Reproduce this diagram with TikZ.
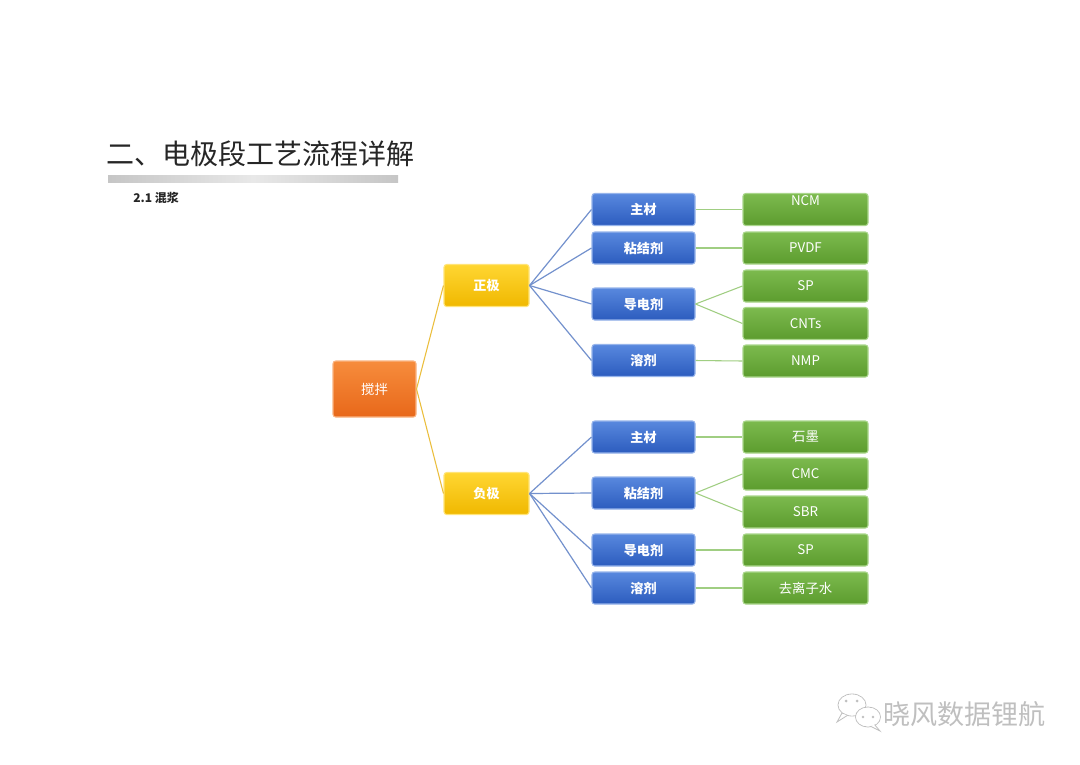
\documentclass[tikz,border=0pt]{standalone}
\usepackage{fontspec}
\setmainfont{Noto Sans CJK SC}
\usetikzlibrary{shadings}
\definecolor{bluetop}{RGB}{88,136,222}
\definecolor{bluebot}{RGB}{44,92,190}
\definecolor{blueedge}{RGB}{150,180,235}
\definecolor{yeltop}{RGB}{255,214,50}
\definecolor{yelbot}{RGB}{240,184,0}
\definecolor{yeledge}{RGB}{255,228,120}
\definecolor{ortop}{RGB}{246,140,60}
\definecolor{orbot}{RGB}{232,104,26}
\definecolor{oredge}{RGB}{250,180,130}
\definecolor{grtop}{RGB}{124,186,78}
\definecolor{grbot}{RGB}{92,156,46}
\definecolor{gredge}{RGB}{170,214,140}
\definecolor{bline}{RGB}{115,145,205}
\definecolor{gline}{RGB}{160,206,130}
\definecolor{yline}{RGB}{235,190,60}
\tikzset{
  boxbase/.style={rounded corners=2pt, inner sep=0pt, text=white, line width=0.8pt},
  bluebox/.style={boxbase, top color=bluetop, bottom color=bluebot, draw=blueedge,
    minimum width=77.25pt, minimum height=24pt, font=\fontsize{9.8pt}{11pt}\selectfont\bfseries},
  greenbox/.style={boxbase, top color=grtop, bottom color=grbot, draw=gredge,
    minimum width=93.75pt, minimum height=24pt, font=\fontsize{10pt}{11pt}\selectfont},
  yelbox/.style={boxbase, top color=yeltop, bottom color=yelbot, draw=yeledge,
    minimum width=63.75pt, minimum height=31.5pt, font=\fontsize{9.8pt}{11pt}\selectfont\bfseries},
  orbox/.style={boxbase, top color=ortop, bottom color=orbot, draw=oredge,
    minimum width=62.25pt, minimum height=42pt, font=\fontsize{10pt}{11pt}\selectfont},
  yconn/.style={draw=yline, line width=0.8pt},
  bconn/.style={draw=bline, line width=0.9pt},
  gconn/.style={draw=gline, line width=0.8pt},
}
\begin{document}
\begin{tikzpicture}[x=0.75pt,y=-0.75pt]
\fill[white] (0,0) rectangle (1080,764);
\useasboundingbox (0,0) rectangle (1080,764);
% title
\node[anchor=west, inner sep=0pt, font=\fontsize{21pt}{24pt}\selectfont, text=black!85] (title) at (106,154) {二、电极段工艺流程详解};
\shade[left color=gray!45, right color=gray!18] (108,175) rectangle (253.2,182);
\shade[left color=gray!18, right color=gray!45] (252.8,175) rectangle (398,182);
\node[anchor=west, inner sep=0pt, font=\fontsize{9pt}{10pt}\selectfont\bfseries, text=black!85] (sub) at (133,198) {2.1 混浆};
% nodes
\node[orbox] (mix) at (374.5,389) {搅拌};
\node[yelbox] (pos) at (486.5,285.5) {正极};
\node[yelbox] (neg) at (486.5,493.5) {负极};
\node[bluebox] (p1) at (643.5,209.5) {主材};
\node[bluebox] (p2) at (643.5,248) {粘结剂};
\node[bluebox] (p3) at (643.5,304) {导电剂};
\node[bluebox] (p4) at (643.5,360.5) {溶剂};
\node[bluebox] (n1) at (643.5,437) {主材};
\node[bluebox] (n2) at (643.5,493) {粘结剂};
\node[bluebox] (n3) at (643.5,550) {导电剂};
\node[bluebox] (n4) at (643.5,588) {溶剂};
\node[greenbox, text depth=13pt] (g1) at (805.5,209.5) {NCM};
\node[greenbox] (g2) at (805.5,248) {PVDF};
\node[greenbox] (g3) at (805.5,286) {SP};
\node[greenbox] (g4) at (805.5,323.5) {CNTs};
\node[greenbox] (g5) at (805.5,361) {NMP};
\node[greenbox] (h1) at (805.5,437) {石墨};
\node[greenbox] (h2) at (805.5,474) {CMC};
\node[greenbox] (h3) at (805.5,512) {SBR};
\node[greenbox] (h4) at (805.5,550) {SP};
\node[greenbox] (h5) at (805.5,588) {去离子水};
% connectors
\draw[yconn] (mix.east) -- (pos.west);
\draw[yconn] (mix.east) -- (neg.west);
\foreach \b in {p1,p2,p3,p4} \draw[bconn] (pos.east) -- (\b.west);
\foreach \b in {n1,n2,n3,n4} \draw[bconn] (neg.east) -- (\b.west);
\draw[gconn] (p1.east) -- (g1.west);
\draw[gconn] (p2.east) -- (g2.west);
\draw[gconn] (p3.east) -- (g3.west);
\draw[gconn] (p3.east) -- (g4.west);
\draw[gconn] (p4.east) -- (g5.west);
\draw[gconn] (n1.east) -- (h1.west);
\draw[gconn] (n2.east) -- (h2.west);
\draw[gconn] (n2.east) -- (h3.west);
\draw[gconn] (n3.east) -- (h4.west);
\draw[gconn] (n4.east) -- (h5.west);
% watermark icon
\begin{scope}[draw=gray!50, line width=0.6pt, fill=white]
\filldraw (852,705) ellipse (14 and 11);
\filldraw (842,713) -- (837,722) -- (848,715) -- cycle;
\fill[white] (852,705) ellipse (13.3 and 10.3);
\filldraw (868,717) ellipse (12.5 and 10);
\filldraw (874,724) -- (880,731) -- (870,726) -- cycle;
\fill[white] (868,717) ellipse (11.8 and 9.3);
\fill[gray!50] (846,701) circle (1.5) (857,701) circle (1.5);
\fill[gray!50] (863,717) circle (1.3) (873,717) circle (1.3);
\end{scope}
\node[anchor=west, inner sep=0pt, font=\fontsize{20.3pt}{22pt}\selectfont, text=gray!50] (wm) at (883,714) {晓风数据锂航};
\end{tikzpicture}
\end{document}
